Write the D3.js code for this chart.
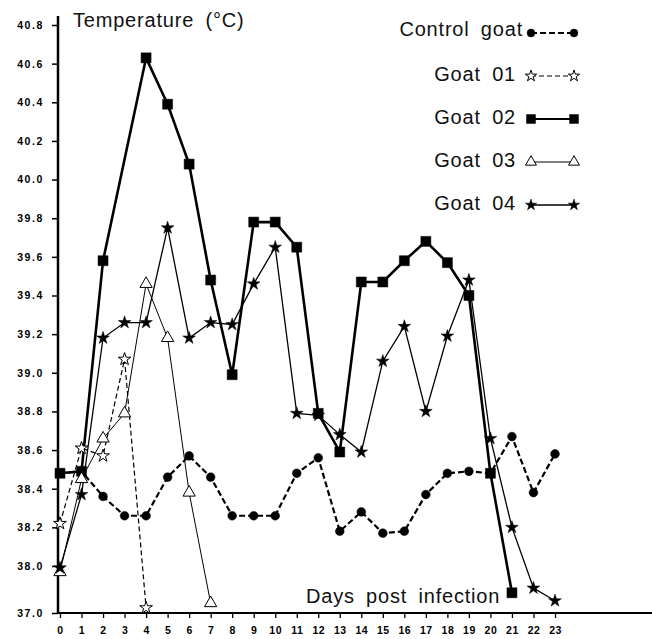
<!DOCTYPE html>
<html>
<head>
<meta charset="utf-8">
<script src="https://cdn.jsdelivr.net/npm/d3@7"></script>
<style>
  body { margin: 0; background: #fff; }
  svg { display: block; }
  .tick text { font-family: "Liberation Sans", Arial, sans-serif; font-weight: bold; font-size: 10.5px; letter-spacing: 1.6px; }
  .lbl, .leg { font-family: "Liberation Sans", Arial, sans-serif; font-size: 20px; fill: #111; letter-spacing: 0.8px; word-spacing: 5px; }
</style>
</head>
<body>
<script>
// days post infection
const days = d3.range(0, 24);
const yTicks = [37.0, 38.0, 38.2, 38.4, 38.6, 38.8, 39.0, 39.2, 39.4, 39.6, 39.8, 40.0, 40.2, 40.4, 40.6, 40.8];

// temperatures (°C), null = not measured
const control = [38.48, 38.49, 38.36, 38.26, 38.26, 38.46, 38.57, 38.46, 38.26, 38.26, 38.26, 38.48,
                 38.56, 38.18, 38.28, 38.17, 38.18, 38.37, 38.48, 38.49, 38.48, 38.67, 38.38, 38.58];
const goat01 = [38.22, 38.61, 38.57, 39.07, 37.11];
const goat02 = [38.48, 38.49, 39.58, null, 40.63, 40.39, 40.08, 39.48, 38.99, 39.78, 39.78, 39.65,
                38.79, 38.59, 39.47, 39.47, 39.58, 39.68, 39.57, 39.40, 38.48, 37.43];
const goat03 = [37.87, 38.45, 38.66, 38.79, 39.46, 39.18, 38.38, 37.21];
const goat04 = [37.96, 38.37, 39.18, 39.26, 39.26, 39.75, 39.18, 39.26, 39.25, 39.46, 39.65, 38.79,
                38.78, 38.68, 38.59, 39.06, 39.24, 38.80, 39.19, 39.48, 38.66, 38.20, 37.53, 37.26];

const width = 652, height = 639;

const svg = d3.select("body").append("svg")
    .attr("width", width)
    .attr("height", height);

const x = d3.scaleLinear().domain([0, 23]).range([60, 555]);
// broken axis: 37.0 sits just under 38.0
const y = d3.scaleLinear().domain([37, 38, 40.8]).range([613, 566, 25]);

const series = [
    { name: "Control goat", values: control, width: 2.2, dash: "6,3", symbol: d3.symbolCircle, size: 60, fill: "#000" },
    { name: "Goat 01", values: goat01, width: 1.2, dash: "5,3", symbol: d3.symbolStar, size: 50, fill: "#fff" },
    { name: "Goat 02", values: goat02, width: 2.6, dash: null, symbol: d3.symbolSquare, size: 100, fill: "#000" },
    { name: "Goat 03", values: goat03, width: 1, dash: null, symbol: d3.symbolTriangle, size: 65, fill: "#fff" },
    { name: "Goat 04", values: goat04, width: 1.3, dash: null, symbol: d3.symbolStar, size: 50, fill: "#000" }
];

// axes
const yAxis = d3.axisLeft(y).tickValues(yTicks).tickFormat(d3.format(".1f")).tickSize(6).tickPadding(8);
const gy = svg.append("g").attr("transform", "translate(58,0)").call(yAxis);
gy.select(".domain").attr("stroke-width", 2.5).attr("d", "M0,16V613");
gy.selectAll(".tick line").attr("stroke-width", 1.5);

const xAxis = d3.axisBottom(x).tickValues(days).tickSize(5).tickPadding(9);
const gx = svg.append("g").attr("transform", "translate(0,613)").call(xAxis);
gx.select(".domain").attr("stroke-width", 2).attr("d", "M58,0H652");
gx.selectAll(".tick line").attr("stroke-width", 1.3);
gx.selectAll(".tick text").style("letter-spacing", "0.5px");

const line = d3.line()
    .x(d => x(d[0]))
    .y(d => y(d[1]));

// missing days are bridged, as in the original figure
series.forEach(s => {
    s.pts = s.values.map((v, i) => [i, v]).filter(d => d[1] != null);
    svg.append("path")
        .datum(s.pts)
        .attr("fill", "none")
        .attr("stroke", "#000")
        .attr("stroke-width", s.width)
        .attr("stroke-dasharray", s.dash)
        .attr("d", line);
});

series.forEach(s => {
    svg.append("g").selectAll("path")
        .data(s.pts)
        .join("path")
        .attr("transform", d => `translate(${x(d[0])},${y(d[1])})`)
        .attr("d", d3.symbol(s.symbol, s.size))
        .attr("fill", s.fill)
        .attr("stroke", "#000")
        .attr("stroke-width", s.fill === "#fff" ? 1 : 0.5);
});

// legend
const legendY = d3.scalePoint().domain(series.map(s => s.name)).range([33, 205]);
const leg = svg.append("g");
series.forEach((s, i) => {
    const gy0 = legendY(s.name);
    leg.append("text")
        .attr("class", "leg")
        .attr("x", i === 0 ? 523 : 516)
        .attr("y", gy0 + 3 + (i === 0 ? 0 : 2))
        .attr("text-anchor", "end")
        .text(s.name);
    leg.append("line")
        .attr("x1", 531).attr("x2", 574)
        .attr("y1", gy0).attr("y2", gy0)
        .attr("stroke", "#000")
        .attr("stroke-width", Math.min(s.width, 2))
        .attr("stroke-dasharray", s.dash);
    [531, 574].forEach(px => {
        leg.append("path")
            .attr("transform", `translate(${px},${gy0})`)
            .attr("d", d3.symbol(s.symbol, s.size * 0.8))
            .attr("fill", s.fill)
            .attr("stroke", "#000")
            .attr("stroke-width", s.fill === "#fff" ? 1 : 0.5);
    });
});

svg.append("text").attr("class", "lbl").attr("x", 73).attr("y", 27).text("Temperature (°C)");
svg.append("text").attr("class", "lbl").attr("x", 306).attr("y", 603).text("Days post infection");
</script>
</body>
</html>
